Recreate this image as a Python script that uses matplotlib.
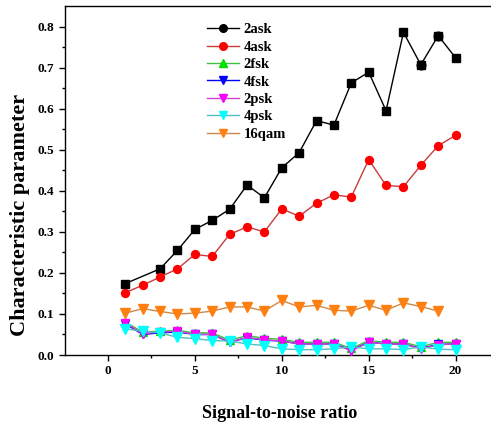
import matplotlib
matplotlib.use("Agg")
import matplotlib.pyplot as plt
from matplotlib.lines import Line2D

plt.rcParams['font.family'] = ['Liberation Serif', 'DejaVu Serif']

# data
snr = list(range(1, 21))
snr_2ask = [1] + list(range(3, 21))
ask2 = [0.174, 0.21, 0.255, 0.306, 0.328, 0.355, 0.414, 0.383, 0.456, 0.493,
        0.571, 0.56, 0.663, 0.689, 0.595, 0.786, 0.707, 0.778, 0.724]
ask2_circles = [18, 19]
ask4 = [0.152, 0.170, 0.19, 0.21, 0.245, 0.24, 0.294, 0.312, 0.30, 0.356,
        0.338, 0.37, 0.39, 0.385, 0.476, 0.413, 0.41, 0.462, 0.51, 0.535]
fsk2 = [0.080, 0.056, 0.058, 0.060, 0.054, 0.054, 0.036, 0.047, 0.041, 0.038,
        0.031, 0.031, 0.031, 0.016, 0.035, 0.031, 0.031, 0.020, 0.031, 0.031]
fsk4 = [0.076, 0.050, 0.054, 0.056, 0.050, 0.050, 0.031, 0.042, 0.036, 0.034,
        0.027, 0.027, 0.027, 0.012, 0.031, 0.027, 0.027, 0.016, 0.026, 0.027]
psk2 = [0.078, 0.052, 0.056, 0.058, 0.050, 0.050, 0.031, 0.043, 0.037, 0.034,
        0.027, 0.027, 0.027, 0.010, 0.031, 0.027, 0.027, 0.015, 0.025, 0.027]
psk4 = [0.064, 0.058, 0.054, 0.043, 0.040, 0.035, 0.034, 0.027, 0.023, 0.015,
        0.013, 0.013, 0.015, 0.020, 0.015, 0.015, 0.013, 0.020, 0.014, 0.013]
snr_qam = list(range(1, 20))
qam16 = [0.102, 0.113, 0.106, 0.100, 0.102, 0.107, 0.117, 0.117, 0.107, 0.133,
         0.117, 0.121, 0.109, 0.107, 0.121, 0.109, 0.127, 0.118, 0.107]

fig = plt.figure(figsize=(4.91, 4.25), dpi=100)
ax = fig.add_axes([0.1314, 0.1647, 0.885, 0.821])

ms = 5.2
ax.plot(snr_2ask, ask2, '-', color='black', lw=1, marker='s', ms=ms, zorder=5)
circ_y = [ask2[snr_2ask.index(x)] for x in ask2_circles]
ax.plot(ask2_circles, circ_y, 'o', color='black', ms=ms + 1, zorder=6)
ax.plot(snr, ask4, '-', color='#c83c3c', lw=1, marker='o', ms=ms + 0.5,
        mfc='red', mec='red', zorder=5)
ax.plot(snr, fsk2, '-', color='#40c040', lw=1, marker='^', ms=ms,
        mfc='#00e000', mec='#00e000', zorder=3)
ax.plot(snr, fsk4, '-', color='blue', lw=1, marker='v', ms=ms + 1,
        mfc='blue', mec='blue', zorder=3)
ax.plot(snr, psk2, '-', color='#d040d0', lw=1, marker='v', ms=ms + 1,
        mfc='#ff00ff', mec='#ff00ff', zorder=4)
ax.plot(snr, psk4, '-', color='#50c0c0', lw=1, marker='v', ms=ms + 1.5,
        mfc='cyan', mec='cyan', zorder=4)
ax.plot(snr_qam, qam16, '-', color='#d08848', lw=1, marker='v', ms=ms + 1.5,
        mfc='#ff8010', mec='#ff8010', zorder=4)

lms = 5.5
handles = [
    Line2D([], [], color='black', lw=1, marker='o', ms=lms),
    Line2D([], [], color='#c83c3c', lw=1, marker='o', ms=lms, mfc='red', mec='red'),
    Line2D([], [], color='#40c040', lw=1, marker='^', ms=lms, mfc='#00e000', mec='#00e000'),
    Line2D([], [], color='blue', lw=1, marker='v', ms=lms, mfc='blue', mec='blue'),
    Line2D([], [], color='#d040d0', lw=1, marker='v', ms=lms, mfc='#ff00ff', mec='#ff00ff'),
    Line2D([], [], color='#50c0c0', lw=1, marker='v', ms=lms, mfc='cyan', mec='cyan'),
    Line2D([], [], color='#d08848', lw=1, marker='v', ms=lms, mfc='#ff8010', mec='#ff8010'),
]
labels = ['2ask', '4ask', '2fsk', '4fsk', '2psk', '4psk', '16qam']
ax.legend(handles, labels, loc='upper left', bbox_to_anchor=(207 / 491, 1 - 23 / 425),
          bbox_transform=fig.transFigure, frameon=False, borderpad=0, borderaxespad=0,
          handlelength=2.2, handletextpad=0.3, labelspacing=0.29,
          prop={'weight': 'bold', 'size': 10.5})

ax.set_xlim(-2.5, 22.5)
ax.set_ylim(0, 0.85)
ax.set_xticks([0, 5, 10, 15, 20])
ax.set_xticks([2.5, 7.5, 12.5, 17.5], minor=True)
ax.set_yticks([0.0, 0.1, 0.2, 0.3, 0.4, 0.5, 0.6, 0.7, 0.8])
ax.set_yticks([0.05, 0.15, 0.25, 0.35, 0.45, 0.55, 0.65, 0.75], minor=True)
ax.set_yticklabels(['0.0', '0.1', '0.2', '0.3', '0.4', '0.5', '0.6', '0.7', '0.8'])
ax.tick_params(which='major', direction='out', length=4, width=1, labelsize=9.5)
ax.tick_params(which='minor', direction='out', length=2.5, width=1)
for lab in ax.get_xticklabels() + ax.get_yticklabels():
    lab.set_fontweight('bold')
ax.spines['right'].set_visible(False)
for s in ['left', 'bottom', 'top']:
    ax.spines[s].set_linewidth(1)

ax.set_xlabel('Signal-to-noise ratio', fontsize=13, fontweight='bold')
ax.set_ylabel('Characteristic parameter', fontsize=16, fontweight='bold')
# label centres in figure pixels: x label at y=413, y label at x=20
ax.xaxis.set_label_coords(280 / 491, 1 - 413 / 425, transform=fig.transFigure)
ax.yaxis.set_label_coords(20 / 491, 1 - 215 / 425, transform=fig.transFigure)
ax.xaxis.label.set_va('center')
ax.yaxis.label.set_va('center')

fig.savefig('out.png', dpi=100)
